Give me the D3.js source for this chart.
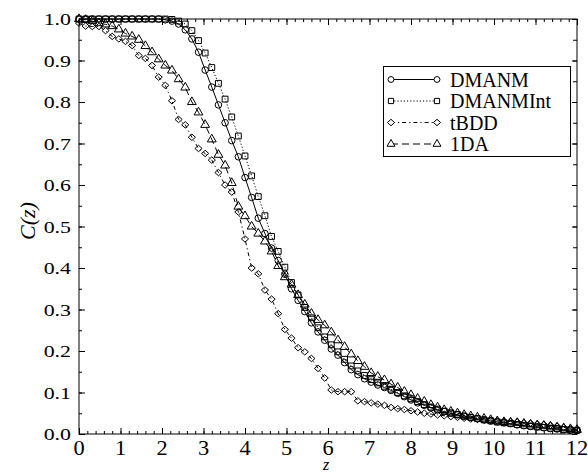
<!DOCTYPE html>
<html><head><meta charset="utf-8">
<script src="https://cdn.jsdelivr.net/npm/d3@7/dist/d3.min.js"></script>
<style>body{margin:0;background:#fff}svg{display:block}</style>
</head><body>
<svg id="chart" width="588" height="474"></svg>
<script>
// ---------------- data ----------------
const zValues = [0,0.16,0.32,0.48,0.64,0.80,0.96,1.12,1.28,1.44,1.60,1.76,1.92,2.08,2.24,2.40,2.56,2.72,2.88,3.04,
  3.20,3.36,3.52,3.68,3.84,4.00,4.16,4.32,4.48,4.64,4.80,4.96,5.12,5.28,5.44,5.60,5.76,5.92,6.08,6.24,
  6.40,6.56,6.72,6.88,7.04,7.20,7.36,7.52,7.68,7.84,8.00,8.16,8.32,8.48,8.64,8.80,8.96,9.12,9.28,9.44,
  9.60,9.76,9.92,10.08,10.24,10.40,10.56,10.72,10.88,11.04,11.20,11.36,11.52,11.68,11.84,12.00];

const dmanm = [1,1,1,1,1,1,1,1,1,1,1,1,1,0.998,0.995,0.988,0.974,0.952,0.92,0.877,
  0.836,0.793,0.75,0.707,0.668,0.618,0.57,0.52,0.483,0.448,0.418,0.385,0.35,0.322,0.295,0.268,0.246,0.226,0.205,0.19,
  0.172,0.155,0.143,0.133,0.125,0.118,0.112,0.105,0.098,0.09,0.082,0.075,0.069,0.063,0.058,0.054,0.05,0.046,0.043,0.04,
  0.037,0.034,0.031,0.029,0.027,0.025,0.022,0.02,0.018,0.017,0.015,0.013,0.012,0.01,0.009,0.008];

const dmanmInt = [1,1,1,1,1,1,1,1,1,1,1,1,1,1,0.999,0.995,0.988,0.972,0.948,0.918,
  0.883,0.845,0.807,0.764,0.718,0.67,0.622,0.572,0.526,0.476,0.44,0.402,0.365,0.335,0.305,0.28,0.256,0.234,0.215,0.198,
  0.18,0.164,0.152,0.141,0.131,0.123,0.115,0.108,0.1,0.092,0.085,0.078,0.071,0.065,0.06,0.055,0.051,0.047,0.043,0.04,
  0.037,0.034,0.032,0.029,0.027,0.025,0.023,0.021,0.019,0.017,0.016,0.014,0.013,0.011,0.01,0.009];

const tbdd = [0.99,0.983,0.982,0.982,0.972,0.958,0.952,0.946,0.936,0.912,0.905,0.888,0.86,0.84,0.803,0.758,0.745,0.715,0.688,0.676,
  0.66,0.63,0.6,0.583,0.535,0.47,0.40,0.386,0.347,0.325,0.29,0.252,0.231,0.208,0.198,0.182,0.158,0.135,0.106,0.102,
  0.102,0.102,0.08,0.078,0.075,0.072,0.069,0.064,0.061,0.059,0.056,0.053,0.05,0.048,0.046,0.044,0.042,0.04,0.038,0.036,
  0.035,0.034,0.033,0.032,0.031,0.03,0.029,0.027,0.026,0.024,0.023,0.021,0.019,0.016,0.013,0.01];

const oneDA = [1,0.998,0.995,0.99,0.987,0.983,0.975,0.965,0.958,0.95,0.935,0.92,0.903,0.888,0.876,0.855,0.835,0.8,0.775,0.745,
  0.71,0.673,0.647,0.605,0.548,0.525,0.5,0.483,0.464,0.44,0.405,0.378,0.36,0.335,0.312,0.29,0.275,0.262,0.245,0.226,
  0.21,0.192,0.176,0.162,0.147,0.138,0.13,0.12,0.112,0.102,0.094,0.085,0.078,0.07,0.064,0.058,0.054,0.05,0.046,0.043,
  0.04,0.037,0.034,0.031,0.029,0.028,0.027,0.025,0.023,0.021,0.02,0.018,0.016,0.014,0.012,0.01];

const seriesNames = ["DMANM","DMANMInt","tBDD","1DA"];
const xTickValues = [0,1,2,3,4,5,6,7,8,9,10,11,12];
const xTickLabels = ["0","1","2","3","4","5","6","7","8","9","10","11","12"];
const yTickValues = [0,0.1,0.2,0.3,0.4,0.5,0.6,0.7,0.8,0.9,1.0];
const yTickLabels = ["0.0","0.1","0.2","0.3","0.4","0.5","0.6","0.7","0.8","0.9","1.0"];
const xTitle = "z";
const yTitle = "C(z)";

// ---------------- layout ----------------
const L = 79, R = 577, T = 19, B = 434;
const FONT = '"Liberation Serif"';
const svg = d3.select("#chart");
const x = d3.scaleLinear().domain([0,12]).range([L,R]);
const y = d3.scaleLinear().domain([0,1]).range([B,T]);

const diamond = {draw(ctx, size){ const w=3.6, h=3.2; ctx.moveTo(0,-h); ctx.lineTo(w,0); ctx.lineTo(0,h); ctx.lineTo(-w,0); ctx.closePath(); }};
const styles = [
  {name:seriesNames[0], values:dmanm,    dash:null,        sym:d3.symbolCircle,   size:34},
  {name:seriesNames[1], values:dmanmInt, dash:"1.2,2",     sym:d3.symbolSquare,   size:34},
  {name:seriesNames[2], values:tbdd,     dash:"4,3,1.2,3", sym:diamond,           size:30},
  {name:seriesNames[3], values:oneDA,    dash:"7,4",       sym:d3.symbolTriangle, size:34}
];

// ---------------- axes ----------------
const g = svg.append("g");
function ax(gen, tr, vals, size){
  const a = g.append("g").attr("transform", tr)
    .call(gen.tickValues(vals).tickSize(size).tickSizeOuter(0).tickFormat(""));
  a.select(".domain").remove();
  a.selectAll("line").attr("stroke","#000").attr("stroke-width",1);
  return a;
}
const xMinor = d3.range(0, 12.001, 0.2).map(v=>+v.toFixed(2));
const yMinor = d3.range(0, 1.0001, 0.05).map(v=>+v.toFixed(2));
ax(d3.axisBottom(x), `translate(0,${B})`, xMinor, -3);
ax(d3.axisBottom(x), `translate(0,${B})`, xTickValues, -6);
ax(d3.axisTop(x), `translate(0,${T})`, xMinor, -3);
ax(d3.axisTop(x), `translate(0,${T})`, xTickValues, -6);
ax(d3.axisLeft(y), `translate(${L},0)`, yMinor, -3);
ax(d3.axisLeft(y), `translate(${L},0)`, yTickValues, -6);
ax(d3.axisRight(y), `translate(${R},0)`, yMinor, -4);
ax(d3.axisRight(y), `translate(${R},0)`, yTickValues, -5);

g.append("rect").attr("x",L).attr("y",T).attr("width",R-L).attr("height",B-T)
  .attr("fill","none").attr("stroke","#000").attr("stroke-width",1);

// tick labels (horizontally widened serif digits like the reference)
xTickValues.forEach((v,i)=>{
  g.append("g").attr("transform",`translate(${x(v)},455) scale(1.12,1)`)
   .append("text").attr("text-anchor","middle").style("font-family",FONT)
   .attr("font-size",20).text(xTickLabels[i]);
});
yTickValues.forEach((v,i)=>{
  g.append("g").attr("transform",`translate(71,${y(v)+6}) scale(1.25,1)`)
   .append("text").attr("text-anchor","end").style("font-family",FONT)
   .attr("font-size",17.5).text(yTickLabels[i]);
});

svg.append("text").attr("x",326).attr("y",470).attr("text-anchor","middle").style("font-family",FONT)
  .attr("font-style","italic").attr("font-size",16).text(xTitle);
svg.append("text").attr("transform","translate(35,221) rotate(-90)").attr("text-anchor","middle")
  .style("font-family",FONT).attr("font-style","italic").attr("font-size",22).text(yTitle);

// ---------------- series ----------------
const line = d3.line().x(d=>x(d[0])).y(d=>y(d[1]));
styles.forEach(s=>{
  const pts = zValues.map((z,i)=>[z, s.values[i]]);
  svg.append("path").datum(pts).attr("d",line).attr("fill","none")
    .attr("stroke","#000").attr("stroke-width",1)
    .attr("stroke-dasharray", s.dash);
  const sym = d3.symbol().type(s.sym).size(s.size);
  svg.append("g").selectAll("path").data(pts).join("path")
    .attr("transform",d=>`translate(${x(d[0])},${y(d[1])})`)
    .attr("d",sym).attr("fill","none").attr("stroke","#000").attr("stroke-width",1);
});

// ---------------- legend ----------------
const lg = svg.append("g");
lg.append("rect").attr("x",383.5).attr("y",66.5).attr("width",187).attr("height",90)
  .attr("fill","#fff").attr("stroke","#000").attr("stroke-width",1);
styles.forEach((s,i)=>{
  const cy = 79.5 + i*21.5;
  lg.append("line").attr("x1",391).attr("x2",437).attr("y1",cy).attr("y2",cy)
    .attr("stroke","#000").attr("stroke-width",1).attr("stroke-dasharray",s.dash);
  const sym = d3.symbol().type(s.sym).size(s.size*0.8);
  [391,437].forEach(cx=>lg.append("path").attr("transform",`translate(${cx},${cy})`)
    .attr("d",sym).attr("fill","#fff").attr("stroke","#000").attr("stroke-width",1));
  lg.append("text").attr("x",450).attr("y",cy+7).style("font-family",FONT)
    .attr("font-size",20).text(s.name);
});
</script>
</body></html>
